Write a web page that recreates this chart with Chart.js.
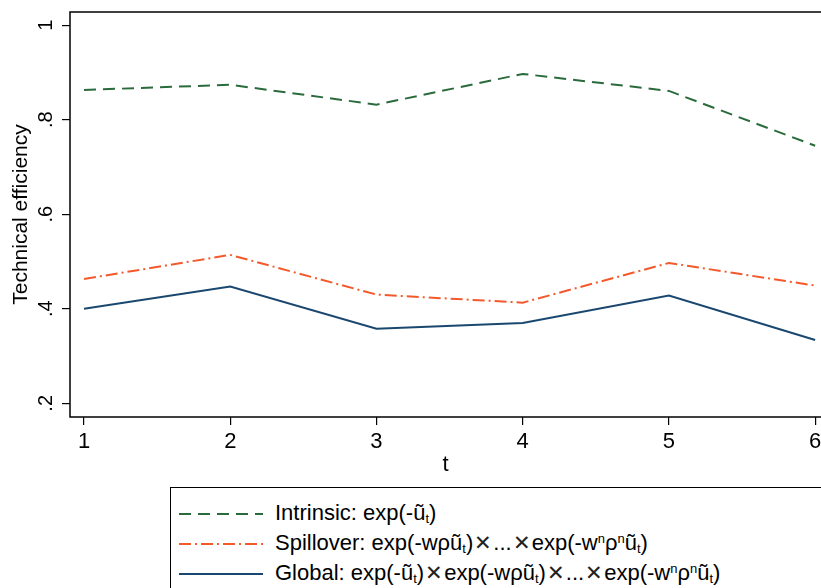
<!DOCTYPE html>
<html lang="en">
<head>
<meta charset="utf-8">
<title>Technical efficiency</title>
<script src="https://cdn.jsdelivr.net/npm/chart.js@4.4.1/dist/chart.umd.min.js"></script>
<style>
    body { margin: 0; background: #fff; overflow: hidden; font-family: "Liberation Sans", Arial, sans-serif; }
    #wrap { position: relative; width: 821px; height: 588px; }
    #chartBox { position: absolute; left: 0; top: 0; width: 821px; height: 480px; }
    #legend { position: absolute; left: 170px; top: 487px; width: 720px; height: 120px; border: 1px solid #000; box-sizing: border-box; }
    .row { position: absolute; left: 0; height: 30px; font-size: 22px; line-height: 26px; color: #000; white-space: nowrap; }
    .row svg { position: absolute; left: 8px; top: 13px; }
    .row > span { position: absolute; left: 104px; top: 1px; }
    .x { font-family: "DejaVu Sans ExtraLight", "DejaVu Sans", sans-serif; font-weight: 200; font-size: 21px; line-height: 0; padding: 0 1px; color: #222; }
    sub, sup { font-size: 13px; line-height: 0; }
    sub { vertical-align: -3px; }
    sup { vertical-align: 7px; }
</style>
</head>
<body>
<div id="wrap">
    <div id="chartBox"><canvas id="myChart"></canvas></div>
    <div id="legend"></div>
</div>
<script>
// data
const tValues = [1, 2, 3, 4, 5, 6];
const intrinsic = [0.863, 0.874, 0.832, 0.897, 0.861, 0.745];
const spillover = [0.463, 0.514, 0.430, 0.413, 0.497, 0.449];
const globalEff = [0.400, 0.447, 0.358, 0.370, 0.428, 0.334];
const yTickVals = [0.2, 0.4, 0.6, 0.8, 1];
const yTickLabels = ['.2', '.4', '.6', '.8', '1'];

const green = '#2a6b3c';
const orange = '#f4592c';
const navy = '#1a476f';

const X = '<span class="x">✕</span>';
const seriesNames = [
    'Intrinsic: exp(-ũ<sub>t</sub>)',
    'Spillover: exp(-wρũ<sub>t</sub>)' + X + '...' + X + 'exp(-w<sup>n</sup>ρ<sup>n</sup>ũ<sub>t</sub>)',
    'Global: exp(-ũ<sub>t</sub>)' + X + 'exp(-wρũ<sub>t</sub>)' + X + '...' + X + 'exp(-w<sup>n</sup>ρ<sup>n</sup>ũ<sub>t</sub>)'
];

function pts(arr) {
    return tValues.map((t, i) => ({ x: t, y: arr[i] }));
}

const dashes = [[12, 7], [12, 4, 2, 4], []];
const colors = [green, orange, navy];
const font = '"Liberation Sans", Arial, sans-serif';

// rotated y tick labels + box round the plot
const frame = {
    id: 'frame',
    afterDraw(chart) {
        const ctx = chart.ctx;
        const a = chart.chartArea;
        const y = chart.scales.y;
        ctx.save();
        ctx.strokeStyle = '#000';
        ctx.lineWidth = 1.5;
        ctx.strokeRect(a.left, a.top, a.right - a.left + 5, a.bottom - a.top);
        ctx.fillStyle = '#000';
        ctx.font = '20px ' + font;
        ctx.textAlign = 'center';
        ctx.textBaseline = 'middle';
        yTickVals.forEach((v, i) => {
            ctx.save();
            ctx.translate(46, y.getPixelForValue(v));
            ctx.rotate(-Math.PI / 2);
            ctx.fillText(yTickLabels[i], 0, 0);
            ctx.restore();
        });
        ctx.restore();
    }
};

const ctx = document.getElementById('myChart');
new Chart(ctx, {
    type: 'line',
    data: {
        datasets: [
            { label: 'Intrinsic', data: pts(intrinsic), borderColor: green, borderDash: dashes[0], borderWidth: 2, pointRadius: 0, fill: false, tension: 0 },
            { label: 'Spillover', data: pts(spillover), borderColor: orange, borderDash: dashes[1], borderWidth: 2, pointRadius: 0, fill: false, tension: 0 },
            { label: 'Global', data: pts(globalEff), borderColor: navy, borderWidth: 2, pointRadius: 0, fill: false, tension: 0 }
        ]
    },
    options: {
        responsive: true,
        maintainAspectRatio: false,
        animation: false,
        layout: { padding: { top: 12, left: 0, right: 0, bottom: 0 } },
        plugins: { legend: { display: false }, tooltip: { enabled: false } },
        scales: {
            x: {
                type: 'linear',
                min: 0.904,
                max: 6.04,
                afterBuildTicks: s => { s.ticks = tValues.map(v => ({ value: v })); },
                afterFit: s => { s.height = 63; s.paddingLeft = 0; s.paddingRight = 0; },
                grid: { display: true, drawOnChartArea: false, drawTicks: true, tickLength: 8, color: '#000', lineWidth: 1.2 },
                border: { display: false },
                ticks: { color: '#000', font: { family: font, size: 22 }, padding: 4, maxRotation: 0 },
                title: { display: true, text: 't', color: '#000', font: { family: font, size: 22 }, padding: { top: 0, bottom: 2 } }
            },
            y: {
                type: 'linear',
                min: 0.171,
                max: 1.028,
                afterBuildTicks: s => { s.ticks = yTickVals.map(v => ({ value: v })); },
                afterFit: s => { s.width = 70; },
                grid: { display: true, drawOnChartArea: false, drawTicks: true, tickLength: 8, color: '#000', lineWidth: 1.2 },
                border: { display: false },
                ticks: { display: false },
                title: { display: true, text: 'Technical efficiency', color: '#000', font: { family: font, size: 21 }, padding: { top: 9, bottom: 0 } }
            }
        }
    },
    plugins: [frame]
});

// legend box below the plot
const legend = document.getElementById('legend');
seriesNames.forEach((name, i) => {
    const row = document.createElement('div');
    row.className = 'row';
    row.style.top = (11 + i * 30) + 'px';
    const dash = dashes[i].length ? dashes[i].join(' ') : 'none';
    row.innerHTML = '<svg width="84" height="4"><line x1="0" y1="2" x2="84" y2="2" stroke="' + colors[i] +
        '" stroke-width="2" stroke-dasharray="' + dash + '"/></svg><span>' + name + '</span>';
    legend.appendChild(row);
});
</script>
</body>
</html>
